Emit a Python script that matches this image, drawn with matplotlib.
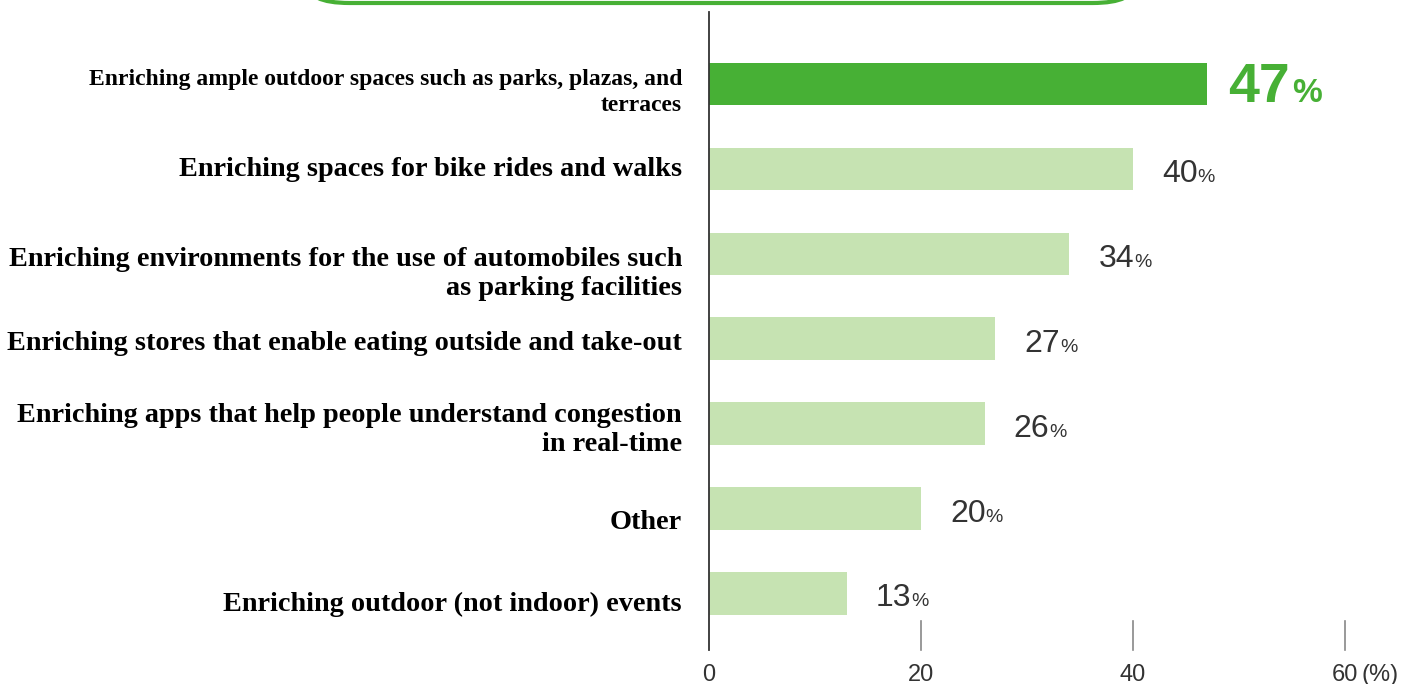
import matplotlib.pyplot as plt
from matplotlib.patches import FancyBboxPatch

categories = [
    "Enriching ample outdoor spaces such as parks, plazas, and\nterraces",
    "Enriching spaces for bike rides and walks",
    "Enriching environments for the use of automobiles such\nas parking facilities",
    "Enriching stores that enable eating outside and take-out",
    "Enriching apps that help people understand congestion\nin real-time",
    "Other",
    "Enriching outdoor (not indoor) events",
]
values = [47, 40, 34, 27, 26, 20, 13]
xticks = [0, 20, 40, 60]

dark = "#47b035"
light = "#c6e3b2"
px_x = 10.6   # pixels per percent
px_y = 84.9   # pixels per row

fig = plt.figure(figsize=(14.15, 6.84), dpi=100)
ax = fig.add_axes([0, 0, 1, 1])
ax.set_xlim(-709 / px_x, (1415 - 709) / px_x)
ax.set_ylim((684 - 84) / px_y, -84 / px_y)
ax.axis("off")

ypos = list(range(len(values)))
colors = [dark] + [light] * (len(values) - 1)
ax.barh(ypos, values, height=0.5, color=colors, zorder=2)

# vertical axis line and ticks
ax.plot([0, 0], [(12 - 84) / px_y, (650 - 84) / px_y], color="#333333", lw=1.3, zorder=3)
for t in xticks[1:]:
    ax.plot([t, t], [(621 - 84) / px_y, (650 - 84) / px_y], color="#888888", lw=1.2)
for t in xticks:
    ax.text(t, (675 - 84) / px_y, str(t), ha="center", va="center",
            fontsize=17, color="#333333", family="Liberation Sans")
ax.text(60 + 1.6, (675 - 84) / px_y, "(%)", ha="left", va="center",
        fontsize=17, color="#333333", family="Liberation Sans")

# category labels
label_dy = [0.1, 0.01, 0.24, 0.06, 0.08, 0.17, 0.13]
for i, lab in enumerate(categories):
    fs = 17 if i == 0 else 20.3
    ax.text(-27 / px_x, i + label_dy[i], lab, ha="right", va="center",
            fontsize=fs, fontweight="bold", family="Liberation Serif",
            linespacing=1.3 if i == 0 else 1.22)

# value labels
num_texts = []
for i, v in enumerate(values):
    if i == 0:
        t = ax.text(v + 21 / px_x, i + 18 / px_y, str(v), ha="left", va="baseline",
                    fontsize=40, fontweight="bold", color=dark, family="Liberation Sans")
    else:
        t = ax.text(v + 29 / px_x, i + 13 / px_y, str(v), ha="left", va="baseline",
                    fontsize=23, color="#333333", family="Liberation Sans")
    num_texts.append(t)

# green rounded box edge at the top
box = FancyBboxPatch((307 / 1415, 1 - 3 / 684), 828 / 1415, 0.2,
                     boxstyle="round,pad=0,rounding_size=0.03",
                     transform=fig.transFigure, facecolor="white",
                     edgecolor=dark, linewidth=3, clip_on=False)
fig.patches.append(box)

fig.canvas.draw()
renderer = fig.canvas.get_renderer()
inv = ax.transData.inverted()
for i, t in enumerate(num_texts):
    bb = t.get_window_extent(renderer)
    xr = inv.transform((bb.x1, 0))[0]
    if i == 0:
        ax.text(xr + 2 / px_x, t.get_position()[1], "%", ha="left", va="baseline",
                fontsize=24, fontweight="bold", color=dark, family="Liberation Sans")
    else:
        ax.text(xr, t.get_position()[1], "%", ha="left", va="baseline",
                fontsize=14, color="#333333", family="Liberation Sans")

fig.savefig("out.png", dpi=100)
